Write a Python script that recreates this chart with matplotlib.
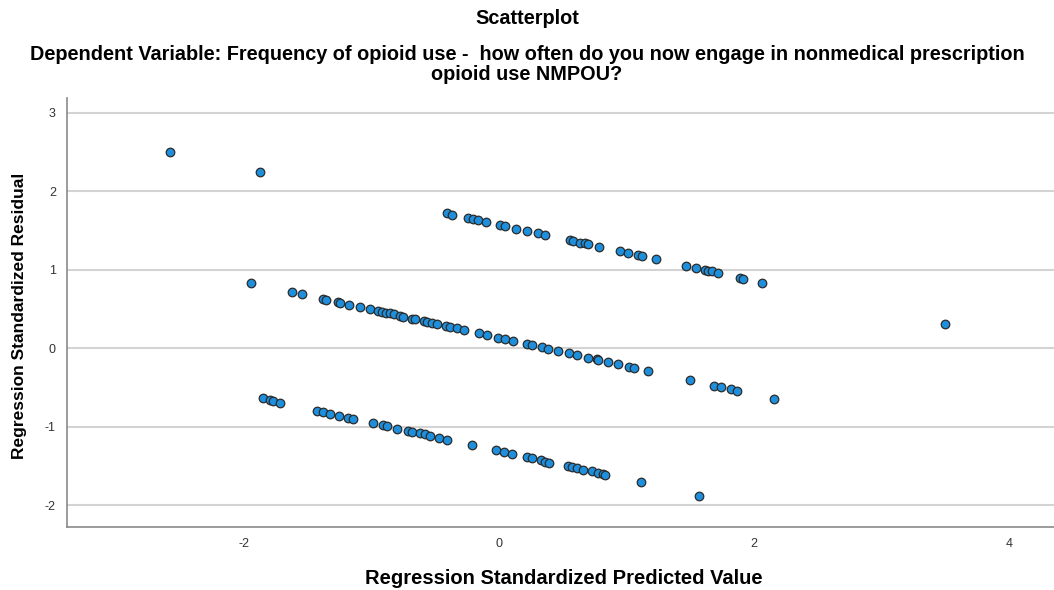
import matplotlib
matplotlib.use("Agg")
import matplotlib.pyplot as plt

plt.rcParams["font.family"] = ["Liberation Sans", "DejaVu Sans"]
plt.rcParams["axes.unicode_minus"] = False

# ---- residual vs predicted ----
pred_top = [-2.578, -1.873]
resid_top = [2.504, 2.253]

# upper band
pred_hi = [-0.410, -0.366, -0.241, -0.201, -0.162, -0.102, 0.008, 0.047, 0.133, 0.222,
           0.308, 0.361, 0.556, 0.582, 0.635, 0.674, 0.700, 0.786, 0.948, 1.013,
           1.087, 1.118, 1.230, 1.466, 1.544, 1.614, 1.640, 1.667, 1.719, 1.889,
           1.915, 2.064]
resid_hi = [1.722, 1.704, 1.658, 1.645, 1.636, 1.615, 1.573, 1.556, 1.522, 1.492,
            1.467, 1.445, 1.381, 1.369, 1.347, 1.339, 1.327, 1.288, 1.237, 1.212,
            1.186, 1.173, 1.135, 1.050, 1.020, 0.999, 0.990, 0.982, 0.960, 0.893,
            0.884, 0.829]

# middle band
pred_mid = [-1.944, -1.625, -1.544, -1.382, -1.358, -1.259, -1.246, -1.176, -1.092, -1.011,
            -0.946, -0.919, -0.886, -0.854, -0.823, -0.776, -0.750, -0.684, -0.658, -0.585,
            -0.567, -0.527, -0.484, -0.415, -0.384, -0.332, -0.272, -0.154, -0.096, -0.010,
            0.047, 0.112, 0.222, 0.256, 0.335, 0.386, 0.465, 0.551, 0.609, 0.700,
            0.766, 0.778, 0.857, 0.935, 1.019, 1.058, 1.170, 1.497, 1.687, 1.737,
            1.818, 1.868, 2.158, 3.495]
resid_mid = [0.837, 0.718, 0.689, 0.633, 0.620, 0.587, 0.582, 0.556, 0.531, 0.501,
             0.475, 0.467, 0.454, 0.446, 0.434, 0.412, 0.403, 0.378, 0.370, 0.348,
             0.339, 0.327, 0.310, 0.284, 0.276, 0.255, 0.233, 0.191, 0.170, 0.135,
             0.115, 0.087, 0.052, 0.038, 0.013, -0.009, -0.034, -0.064, -0.085, -0.120,
             -0.140, -0.153, -0.171, -0.204, -0.239, -0.251, -0.286, -0.408, -0.481, -0.497,
             -0.523, -0.541, -0.651, 0.310]

# lower band
pred_lo = [-1.852, -1.795, -1.769, -1.716, -1.424, -1.377, -1.325, -1.252, -1.186, -1.142,
           -0.985, -0.907, -0.880, -0.797, -0.711, -0.684, -0.619, -0.580, -0.541, -0.470,
           -0.410, -0.209, -0.024, 0.042, 0.100, 0.219, 0.259, 0.327, 0.361, 0.394,
           0.543, 0.570, 0.609, 0.661, 0.726, 0.778, 0.817, 0.831, 1.111, 1.570]
resid_lo = [-0.638, -0.659, -0.676, -0.694, -0.800, -0.816, -0.834, -0.860, -0.885, -0.902,
            -0.957, -0.982, -0.995, -1.026, -1.051, -1.064, -1.084, -1.097, -1.115, -1.144,
            -1.166, -1.233, -1.301, -1.323, -1.348, -1.386, -1.403, -1.429, -1.446, -1.459,
            -1.501, -1.518, -1.531, -1.549, -1.569, -1.587, -1.603, -1.616, -1.709, -1.880]

x_ticks = [-2, 0, 2, 4]
y_ticks = [-2, -1, 0, 1, 2, 3]

pred = pred_top + pred_hi + pred_mid + pred_lo
resid = resid_top + resid_hi + resid_mid + resid_lo

W, H = 1054, 590
fig = plt.figure(figsize=(W / 100, H / 100), dpi=100)
ax = fig.add_axes([67 / W, 1 - 527 / H, (W - 67) / W, (527 - 98) / H])

ax.scatter(pred, resid, s=38, c="#1e8fdc", edgecolors="#2b2b2b", linewidths=0.9, zorder=3)

ax.set_xlim(-3.386, 4.35)
ax.set_ylim(-2.279, 3.19)
ax.set_xticks(x_ticks)
ax.set_yticks(y_ticks)
ax.yaxis.grid(True, color="#d3d3d3", linewidth=1.5)
ax.set_axisbelow(True)
ax.tick_params(length=0, labelsize=9, colors="#333333", pad=8)
for side in ("top", "right"):
    ax.spines[side].set_visible(False)
for side in ("left", "bottom"):
    ax.spines[side].set_color("#8a8a8a")
    ax.spines[side].set_linewidth(1.2)

fig.text(564 / W, 1 - 578 / H, "Regression Standardized Predicted Value",
         ha="center", va="center", fontsize=14.5, fontweight="bold")
fig.text(20 / W, 1 - 316 / H, "Regression Standardized Residual", rotation=90,
         ha="center", va="center", fontsize=12.5, fontweight="bold")

fig.text(0.5, 1 - 19 / H, "Scatterplot", ha="center", va="center",
         fontsize=14.3, fontweight="bold")
fig.text(0.5, 1 - 55 / H,
         "Dependent Variable: Frequency of opioid use -  how often do you now engage in nonmedical prescription",
         ha="center", va="center", fontsize=14.3, fontweight="bold")
fig.text(0.5, 1 - 75 / H, "opioid use NMPOU?", ha="center", va="center",
         fontsize=14.3, fontweight="bold")

fig.savefig("out.png", dpi=100)
